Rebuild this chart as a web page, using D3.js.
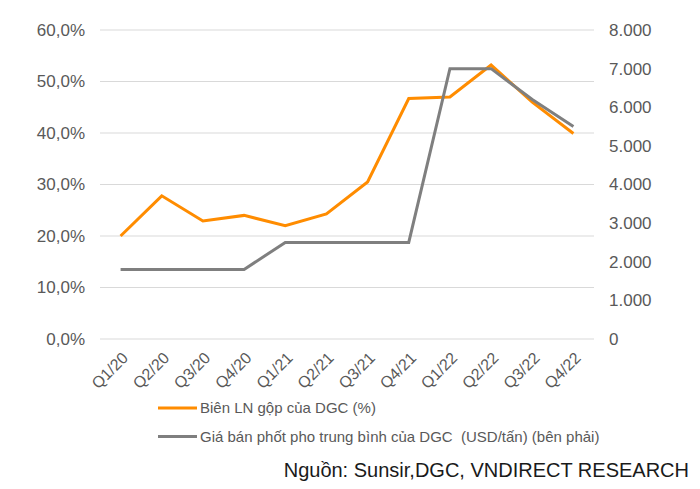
<!DOCTYPE html>
<html><head><meta charset="utf-8">
<script src="https://cdn.jsdelivr.net/npm/d3@7"></script>
<style>body{margin:0;background:#fff;}svg{display:block;font-family:"Liberation Sans",Arial,sans-serif;}</style>
</head><body>
<svg id="c" width="700" height="489"></svg>
<script>
const categories = ["Q1/20","Q2/20","Q3/20","Q4/20","Q1/21","Q2/21","Q3/21","Q4/21","Q1/22","Q2/22","Q3/22","Q4/22"];
const grossMargin = [20.0, 27.8, 22.9, 24.0, 22.0, 24.3, 30.5, 46.7, 47.0, 53.2, 46.0, 39.9];
const phosphorusPrice = [1800, 1800, 1800, 1800, 2500, 2500, 2500, 2500, 7000, 7000, 6200, 5500];
const leftTicks = [0, 10, 20, 30, 40, 50, 60];
const rightTicks = [0, 1000, 2000, 3000, 4000, 5000, 6000, 7000, 8000];
const seriesNames = ["Biên LN gộp của DGC (%)", "Giá bán phốt pho trung bình của DGC  (USD/tấn) (bên phải)"];
const sourceText = "Nguồn: Sunsir,DGC, VNDIRECT RESEARCH";

const svg = d3.select("#c");
const L = 100, R = 594, T = 30, B = 339;
const x = d3.scalePoint().domain(categories).range([L, R]).padding(0.5);
const yL = d3.scaleLinear().domain([0, 60]).range([B, T]);
const yR = d3.scaleLinear().domain([0, 8000]).range([B, T]);
const tickColor = "#595959";
const ff = '"Liberation Sans",Arial,sans-serif';

// gridlines
svg.append("g").selectAll("line").data(leftTicks).join("line")
  .attr("x1", L).attr("x2", R).attr("y1", d => yL(d)).attr("y2", d => yL(d))
  .attr("stroke", "#d9d9d9").attr("stroke-width", 1);

const fmtL = d => d3.format(".1f")(d).replace(".", ",") + "%";
const fmtR = d => d === 0 ? "0" : d3.format(",")(d).replace(/,/g, ".");

const gL = svg.append("g").attr("transform", `translate(${L - 15},0)`)
  .call(d3.axisLeft(yL).tickValues(leftTicks).tickFormat(fmtL).tickSize(0).tickPadding(0));
const gR = svg.append("g").attr("transform", `translate(${R + 15},0)`)
  .call(d3.axisRight(yR).tickValues(rightTicks).tickFormat(fmtR).tickSize(0).tickPadding(0));
[gL, gR].forEach(g => { g.select(".domain").remove();
  g.selectAll("text").attr("fill", tickColor).style("font-size", "17px").style("font-family", ff); });

const gX = svg.append("g").attr("transform", `translate(0,${B})`)
  .call(d3.axisBottom(x).tickSize(0).tickPadding(0));
gX.select(".domain").remove();
gX.selectAll("text").attr("fill", tickColor).style("font-size", "16px")
  .style("font-family", ff)
  .attr("text-anchor", "end").attr("dy", null).attr("y", 0)
  .attr("transform", "translate(8,20) rotate(-45)");

const lineL = d3.line().x((d, i) => x(categories[i])).y(d => yL(d));
const lineR = d3.line().x((d, i) => x(categories[i])).y(d => yR(d));
svg.append("path").attr("d", lineL(grossMargin)).attr("fill", "none")
  .attr("stroke", "#ff8c00").attr("stroke-width", 3).attr("stroke-linejoin", "miter");
svg.append("path").attr("d", lineR(phosphorusPrice)).attr("fill", "none")
  .attr("stroke", "#7f7f7f").attr("stroke-width", 3).attr("stroke-linejoin", "miter");

// legend
const legColors = ["#ff8c00", "#7f7f7f"];
const leg = svg.append("g");
seriesNames.forEach((name, i) => {
  const yy = 408 + i * 28.5;
  leg.append("line").attr("x1", 158).attr("x2", 197).attr("y1", yy).attr("y2", yy)
    .attr("stroke", legColors[i]).attr("stroke-width", 3);
  leg.append("text").attr("x", 200).attr("y", yy + 5).attr("fill", tickColor)
    .style("font-size", "15px").style("white-space", "pre").text(name);
});
svg.append("text").attr("x", 689).attr("y", 477).attr("text-anchor", "end")
  .attr("fill", "#1a1a1a").style("font-size", "20px").text(sourceText);
</script>
</body></html>
